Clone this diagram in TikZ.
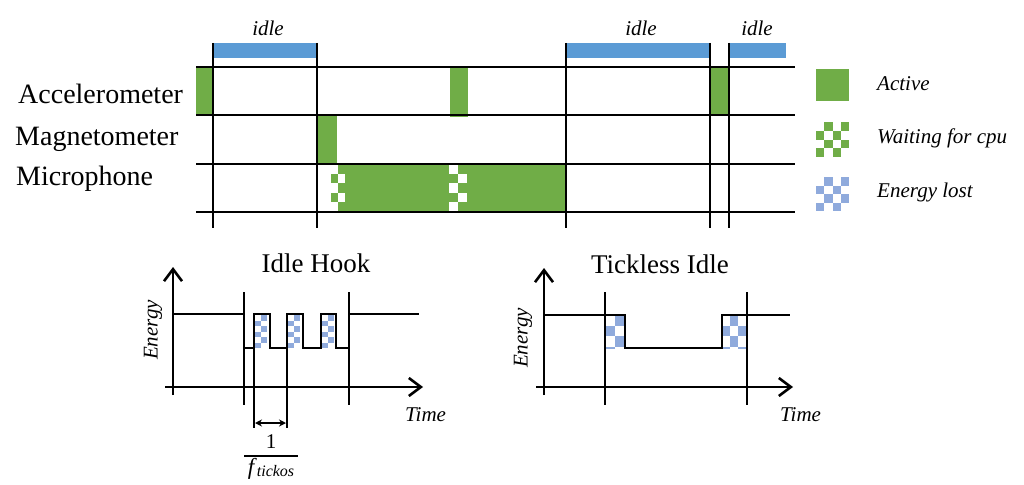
\documentclass[tikz,border=0pt]{standalone}
\usepackage{fontspec}
\setmainfont{Liberation Serif}
\usetikzlibrary{arrows.meta}
\definecolor{actgreen}{HTML}{70AD47}
\definecolor{idleblue}{HTML}{5B9BD5}
\definecolor{lostblue}{HTML}{8FAADC}
\newcommand{\chk}[8]{%
 \begin{scope}
 \clip (#1,#2) rectangle (#3,#4);
 \pgfmathtruncatemacro{\chkc}{ceil((#3-#1)/#5)-1}%
 \pgfmathtruncatemacro{\chkr}{ceil((#4-#2)/#6)-1}%
 \foreach \ci in {0,...,\chkc}{\foreach \cj in {0,...,\chkr}{%
   \pgfmathtruncatemacro{\chkp}{mod(\ci+\cj,2)}%
   \ifnum\chkp=#8\relax \fill[#7] ({#1+\ci*#5},{#2+\cj*#6}) rectangle ++(#5,#6);\fi
 }}
 \end{scope}}
\tikzset{
 bline/.style={line width=2.8pt},
 sigline/.style={line width=2.8pt, line join=miter},
 axis/.style={line width=2.6pt, -{Straight Barb[length=12pt,width=18pt]}},
 rowlabel/.style={anchor=base west, inner sep=0pt, font=\fontsize{28}{30}\selectfont},
 itlabel/.style={inner sep=0pt, font=\fontsize{21}{24}\selectfont\itshape},
 title/.style={anchor=base, inner sep=0pt, font=\fontsize{27}{30}\selectfont},
}
\begin{document}
\begin{tikzpicture}[x=1pt,y=-1pt]
\useasboundingbox (0,0) rectangle (1024,484);
% idle bars
\fill[idleblue] (213,43) rectangle (317,58);
\fill[idleblue] (566,43) rectangle (710,58);
\fill[idleblue] (729,43) rectangle (786,58);
\node[itlabel] (idle1) at (268,28) {idle};
\node[itlabel] (idle2) at (641,28) {idle};
\node[itlabel] (idle3) at (757,28) {idle};
% active blocks
\fill[actgreen] (196,67) rectangle (213,115);
\fill[actgreen] (450,67) rectangle (468,117);
\fill[actgreen] (710,67) rectangle (729,115);
\fill[actgreen] (317,115) rectangle (337,164);
\fill[actgreen] (345,164) rectangle (449,212);
\fill[actgreen] (467,164) rectangle (566,212);
\chk{331}{164}{345}{212}{7}{9.6}{actgreen}{1}
\chk{449}{164}{467}{212}{9}{9.6}{actgreen}{1}
% grid
\foreach \yy in {67,115,164,212} \draw[bline] (196,\yy) -- (795,\yy);
\foreach \xx in {213,317,566,710,729} \draw[bline] (\xx,43) -- (\xx,228);
% row labels
\node[rowlabel] (acc) at (18,103) {Accelerometer};
\node[rowlabel] (mag) at (15,145) {Magnetometer};
\node[rowlabel] (mic) at (16,185) {Microphone};
% legend
\fill[actgreen] (816,69) rectangle (849,101);
\chk{816}{122}{849}{157}{8.25}{8.75}{actgreen}{1}
\chk{816}{177}{849}{211}{8.25}{8.5}{lostblue}{1}
\node[itlabel, anchor=west] (lact) at (877,84) {Active};
\node[itlabel, anchor=west] (lwait) at (877,138) {Waiting for cpu};
\node[itlabel, anchor=west] (llost) at (877,192) {Energy lost};
% ---------- Idle Hook ----------
\node[title] (t1) at (316,272) {Idle Hook};
\chk{255}{315}{267}{348}{6}{5.5}{lostblue}{1}
\chk{288}{315}{300}{348}{6}{5.5}{lostblue}{1}
\chk{322}{315}{334}{348}{6}{5.5}{lostblue}{1}
\coordinate (y1a) at (173,395); \coordinate (y1b) at (173,267);
\coordinate (x1a) at (165,387); \coordinate (x1b) at (423,387);
\draw[axis] (y1a) -- (y1b);
\draw[axis] (x1a) -- (x1b);
\draw[bline] (244,292) -- (244,405);
\draw[bline] (349,292) -- (349,405);
\draw[bline] (254,316) -- (254,428);
\draw[bline] (287,316) -- (287,428);
\draw[sigline] (173,314) -- (244,314) -- (244,348) -- (254,348) -- (254,314) -- (270,314) -- (270,348) -- (287,348) -- (287,314) -- (303,314) -- (303,348) -- (321,348) -- (321,314) -- (336,314) -- (336,348) -- (349,348) -- (349,314) -- (419,314);
\coordinate (pa) at (255,423); \coordinate (pb) at (286,423);
\draw[line width=1.5pt, {Stealth[length=7pt,width=7pt]}-{Stealth[length=7pt,width=7pt]}] (pa) -- (pb);
\node[inner sep=0pt, anchor=base, font=\fontsize{21}{24}\selectfont] (one) at (271,448) {1};
\coordinate (fa) at (244,456); \coordinate (fb) at (298,456);
\draw[line width=1.5pt] (fa) -- (fb);
\node[inner sep=0pt, anchor=base, font=\fontsize{23}{25}\selectfont] (ftick) at (271,474) {\textit{f}\raisebox{-0.2ex}{\fontsize{16}{17}\selectfont\textit{tickos}}};
\node[itlabel, rotate=90] (e1) at (153,330) {Energy};
\node[itlabel, anchor=base west] (tm1) at (405,421) {Time};
% ---------- Tickless Idle ----------
\node[title] (t2) at (660,273) {Tickless Idle};
\chk{605}{315}{625}{348}{10}{10.5}{lostblue}{1}
\chk{722}{315}{746}{348}{8}{10.5}{lostblue}{1}
\coordinate (y2a) at (544,395); \coordinate (y2b) at (544,268);
\coordinate (x2a) at (536,387); \coordinate (x2b) at (793,387);
\draw[axis] (y2a) -- (y2b);
\draw[axis] (x2a) -- (x2b);
\draw[bline] (605,292) -- (605,405);
\draw[bline] (747,292) -- (747,405);
\draw[sigline] (544,315) -- (625,315) -- (625,348) -- (722,348) -- (722,315) -- (790,315);
\node[itlabel, rotate=90] (e2) at (523,338) {Energy};
\node[itlabel, anchor=base west] (tm2) at (780,421) {Time};
\end{tikzpicture}
\end{document}
